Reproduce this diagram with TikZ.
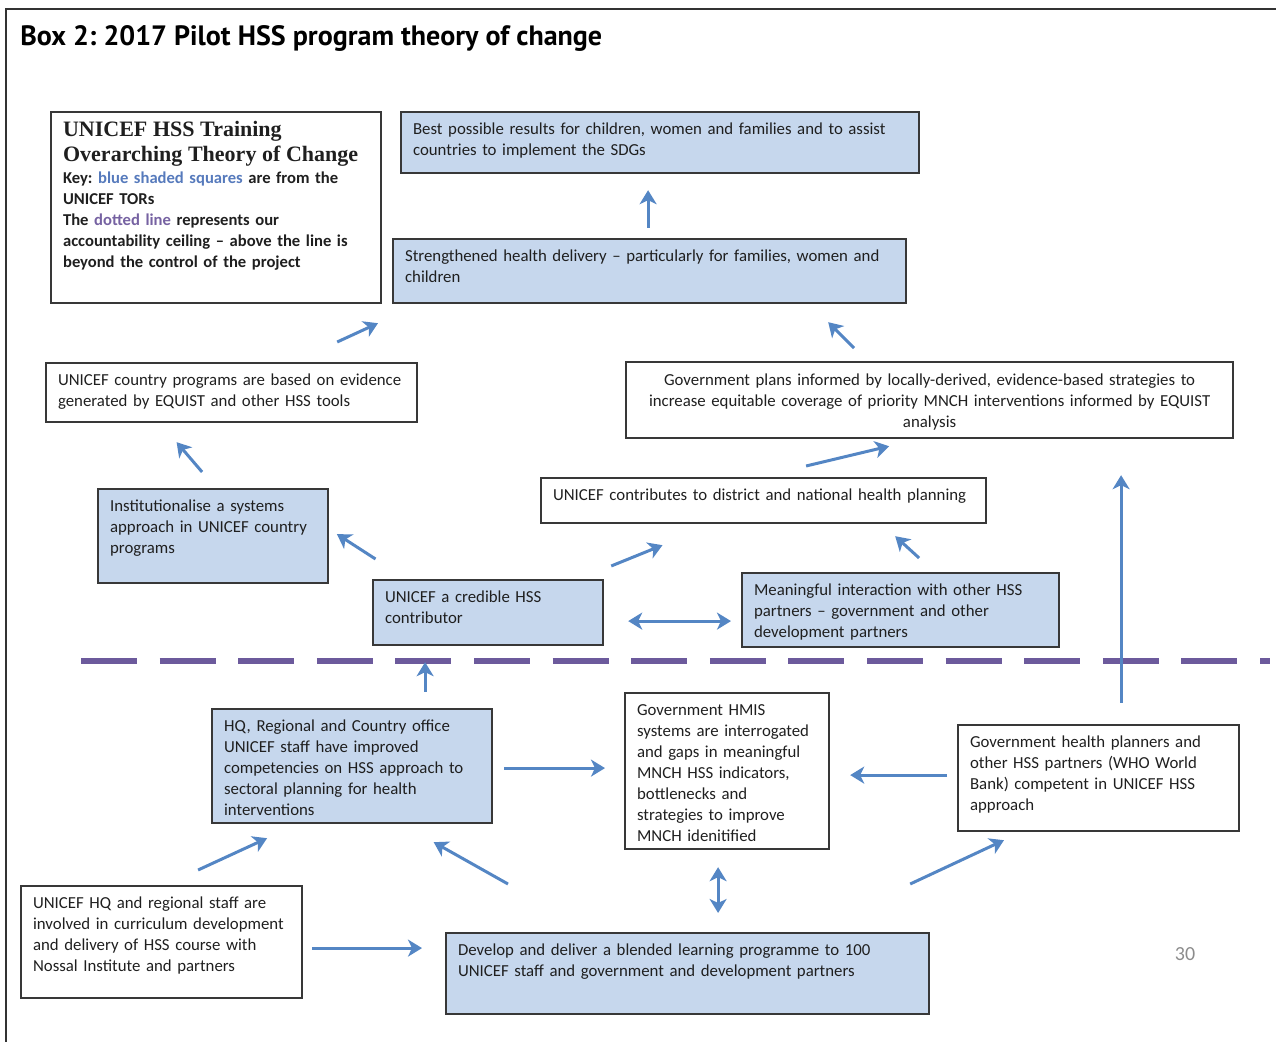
\documentclass[tikz,border=0pt]{standalone}
\usepackage{fontspec}
\setmainfont{Carlito}
\newfontfamily\titlefont{PT Sans}
\newfontfamily\keyserif{Liberation Serif}
\usetikzlibrary{arrows.meta}
\frenchspacing
\hyphenpenalty=10000
\exhyphenpenalty=10000

\definecolor{torblue}{RGB}{198,215,237}
\definecolor{arrowblue}{RGB}{84,134,196}
\definecolor{ceilpurple}{RGB}{108,90,156}
\definecolor{keyblue}{RGB}{86,122,188}
\definecolor{keypurple}{RGB}{118,98,162}

\begin{document}
\begin{tikzpicture}[x=0.5pt,y=-0.5pt,>={Stealth[length=7pt,width=8.5pt,inset=2pt]},
  box node/.style={draw=black!78,line width=1.1pt,anchor=north west,inner xsep=6pt,inner ysep=0pt,text height=11pt,align=left,text=black!88,font=\fontsize{8.4}{10.55}\selectfont},
  tor node/.style={box node,fill=torblue},
  arrow line/.style={->,line width=1.5pt,draw=arrowblue}]
\useasboundingbox (0,0) rectangle (1276,1042);

% frame and title
\draw[line width=1.2pt,black!80] (6,1042) -- (6,9) -- (1276,9);
\node[anchor=base west,inner sep=0pt,font=\titlefont\bfseries\fontsize{14}{16}\selectfont] (title) at (20,46) {Box 2: 2017 Pilot HSS program theory of change};

% above the accountability ceiling
\node[box node,text width=153pt,text height=12pt,text depth=83.5pt] (1) at (50,111)
  {{\keyserif\bfseries\fontsize{11}{10.6}\selectfont UNICEF HSS Training}\\[2.4pt]
   {\keyserif\bfseries\fontsize{11}{10.6}\selectfont Overarching Theory of Change}\\
   \bfseries\fontsize{8.3}{10.6}\selectfont Key: \textcolor{keyblue}{blue shaded squares} are from the\\
   UNICEF TORs\\
   The \textcolor{keypurple}{dotted line} represents our\\
   accountability ceiling -- above the line is\\
   beyond the control of the project};
\node[tor node,text width=247pt,text depth=19.5pt] (2) at (400,111)
  {Best possible results for children, women and families and to assist\\countries to implement the SDGs};
\node[tor node,text width=244.5pt,text depth=21pt] (3) at (392,238)
  {Strengthened health delivery -- particularly for families, women and\\children};
\node[box node,text width=173.5pt,text depth=18.5pt] (4) at (45,362)
  {UNICEF country programs are based on evidence\\generated by EQUIST and other HSS tools};
\node[box node,align=center,text width=291.5pt,text height=11.5pt,text depth=26.5pt] (5) at (625,361)
  {Government plans informed by locally-derived, evidence-based strategies to\\increase equitable coverage of priority MNCH interventions informed by EQUIST\\analysis};
\node[tor node,text width=103pt,text depth=36pt] (6) at (97,488)
  {Institutionalise a systems\\approach in UNICEF country\\programs};
\node[box node,text width=210.5pt,text depth=11.5pt] (7) at (540,477)
  {UNICEF contributes to district and national health planning};
\node[tor node,text width=103pt,text depth=21.5pt] (8) at (372,579)
  {UNICEF a credible HSS\\contributor};
\node[tor node,text width=146.5pt,text depth=26pt] (9) at (741,572)
  {Meaningful interaction with other HSS\\partners -- government and other\\development partners};

% accountability ceiling
\draw[line width=3pt,ceilpurple,dash pattern=on 28pt off 11.3pt] (81,661) -- (1270,661);

% below the ceiling
\node[tor node,text width=128pt,text depth=46pt] (10) at (211,708)
  {HQ, Regional and Country office\\UNICEF staff have improved\\competencies on HSS approach to\\sectoral planning for health\\interventions};
\node[box node,text width=90pt,text depth=67pt] (11) at (624,692)
  {Government HMIS\\systems are interrogated\\and gaps in meaningful\\MNCH HSS indicators,\\bottlenecks and\\strategies to improve\\MNCH idenitified};
\node[box node,text width=128.5pt,text depth=42pt] (12) at (957,724)
  {Government health planners and\\other HSS partners (WHO World\\Bank) competent in UNICEF HSS\\approach};
\node[box node,text width=128.5pt,text depth=45pt] (13) at (20,885)
  {UNICEF HQ and regional staff are\\involved in curriculum development\\and delivery of HSS course with\\Nossal Institute and partners};
\node[tor node,text width=229.5pt,text depth=29.5pt] (14) at (445,932)
  {Develop and deliver a blended learning programme to 100\\UNICEF staff and government and development partners};

\node[text=black!45,font=\fontsize{10}{12}\selectfont] (page) at (1185,954) {30};

\path[every edge/.style={arrow line}]
  ([xshift=-0.75pt,yshift=5pt]3.north) edge ([xshift=-6pt,yshift=-8pt]2.south)
  ([xshift=-40.5pt,yshift=10pt]4.north east) edge ([xshift=-7pt,yshift=-9.5pt]3.south west)
  ([xshift=-37.75pt,yshift=6.5pt]5.north) edge ([xshift=-39.5pt,yshift=-9pt]3.south east)
  ([xshift=-5.5pt,yshift=8pt]6.north) edge ([xshift=-27.5pt,yshift=-9.5pt]4.south)
  ([xshift=21.25pt,yshift=5.5pt]7.north) edge ([xshift=-20.25pt,yshift=-3.5pt]5.south)
  ([xshift=1.75pt,yshift=10pt]8.north west) edge ([xshift=3.85pt,yshift=1pt]6.east)
  ([xshift=3.5pt,yshift=6.5pt]8.north east) edge ([xshift=61.25pt,yshift=-10.5pt]7.south west)
  ([xshift=9.25pt,yshift=7pt]9.north) edge ([xshift=-46pt,yshift=-6pt]7.south east)
  ([xshift=12pt,yshift=-4.25pt]8.east) edge[<->] ([xshift=-5pt,yshift=-4.25pt]8.east -| 9.west)

  ([xshift=36.5pt,yshift=8pt]10.north) edge ([xshift=-31.5pt,yshift=-8pt]8.south)
  ([xshift=11.25pt,yshift=10.5pt]12.north) edge ([xshift=95.75pt,yshift=-18pt]5.south)

  ([xshift=5.5pt,yshift=-1pt]10.east) edge ([xshift=-9.5pt,yshift=-1pt]10.east -| 11.west)
  ([xshift=-5pt,yshift=1.5pt]12.west) edge ([xshift=10pt,yshift=1.5pt]12.west -| 11.east)
  ([xshift=18.25pt,yshift=7.5pt]13.north) edge ([xshift=-42.5pt,yshift=-7pt]10.south)
  ([xshift=31.5pt,yshift=24pt]14.north west) edge ([xshift=40.8pt,yshift=-9pt]10.south)
  ([xshift=-4.5pt,yshift=-8.5pt]11.south) edge[<->] ([xshift=-4.5pt,yshift=9.5pt]11.south |- 14.north)
  ([xshift=-10pt,yshift=24pt]14.north east) edge ([xshift=23.5pt,yshift=-4pt]12.south west)
  ([xshift=4.5pt,yshift=-3pt]13.east) edge ([xshift=-11.5pt,yshift=-3pt]13.east -| 14.west)
  ;
\end{tikzpicture}
\end{document}
